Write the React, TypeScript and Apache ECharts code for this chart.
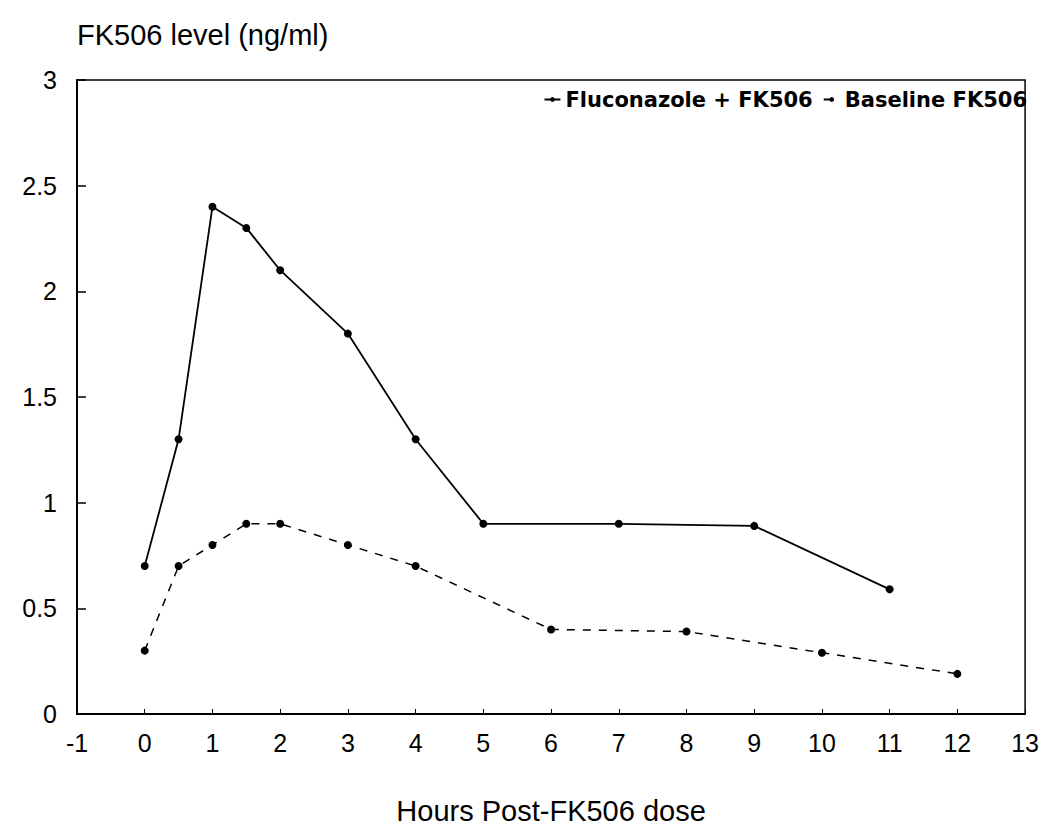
import React, { useEffect, useRef } from "react";
import * as echarts from "echarts";

const flucoHours = [0, 0.5, 1, 1.5, 2, 3, 4, 5, 7, 9, 11];
const flucoLevels = [0.7, 1.3, 2.4, 2.3, 2.1, 1.8, 1.3, 0.9, 0.9, 0.89, 0.59];
const baseHours = [0, 0.5, 1, 1.5, 2, 3, 4, 6, 8, 10, 12];
const baseLevels = [0.3, 0.7, 0.8, 0.9, 0.9, 0.8, 0.7, 0.4, 0.39, 0.29, 0.19];

const FONT = "'Liberation Sans', Arial, Helvetica, sans-serif";

export default function App() {
  const ref = useRef<HTMLDivElement>(null);
  useEffect(() => {
    if (!ref.current) return;
    const chart = echarts.init(ref.current, undefined, { renderer: "svg" });
    const fl = flucoHours.map((h, i) => [h, flucoLevels[i]]);
    const bl = baseHours.map((h, i) => [h, baseLevels[i]]);
    chart.setOption({
      animation: false,
      backgroundColor: "#fff",
      grid: {
        left: 69,
        right: 16,
        top: 72,
        bottom: 107,
        show: true,
        borderColor: "#000",
        borderWidth: 1.5,
      },
      legend: {
        top: 76,
        right: 10,
        itemGap: 10,
        itemWidth: 16,
        itemHeight: 6,
        textStyle: { fontFamily: "'DejaVu Sans', sans-serif", fontSize: 21, color: "#000", fontWeight: "bold" },
        data: ["Fluconazole + FK506", "Baseline FK506"],
      },
      xAxis: {
        type: "value",
        min: -1,
        max: 13,
        interval: 1,
        name: "Hours Post-FK506 dose",
        nameLocation: "middle",
        nameGap: 82,
        nameTextStyle: { fontFamily: FONT, fontSize: 29, color: "#000" },
        axisLine: { show: true, onZero: false, lineStyle: { color: "#000", width: 2 } },
        axisTick: { show: true, inside: true, length: 5, lineStyle: { color: "#000" } },
        axisLabel: { fontFamily: FONT, fontSize: 25, color: "#000", margin: 16 },
        splitLine: { show: false },
      },
      yAxis: {
        type: "value",
        min: 0,
        max: 3,
        interval: 0.5,
        axisLine: { show: true, onZero: false, lineStyle: { color: "#000", width: 2 } },
        axisTick: { show: true, inside: true, length: 9, lineStyle: { color: "#000", width: 1.5 } },
        axisLabel: { fontFamily: FONT, fontSize: 25, color: "#000", margin: 20 },
        splitLine: { show: false },
      },
      graphic: [
        {
          type: "text",
          left: 69,
          top: 12,
          style: { text: "FK506 level (ng/ml)", fontFamily: FONT, fontSize: 29, fill: "#000" },
        },
      ],
      series: [
        {
          name: "Fluconazole + FK506",
          type: "line",
          data: fl,
          symbol: "circle",
          symbolSize: 8,
          itemStyle: { color: "#000" },
          lineStyle: { color: "#000", width: 1.8 },
        },
        {
          name: "Baseline FK506",
          type: "line",
          data: bl,
          symbol: "circle",
          symbolSize: 8,
          itemStyle: { color: "#000" },
          lineStyle: { color: "#000", width: 1.5, type: [8, 8] },
        },
      ],
    });
    return () => chart.dispose();
  }, []);
  return <div ref={ref} style={{ width: 1034, height: 822 }} />;
}
